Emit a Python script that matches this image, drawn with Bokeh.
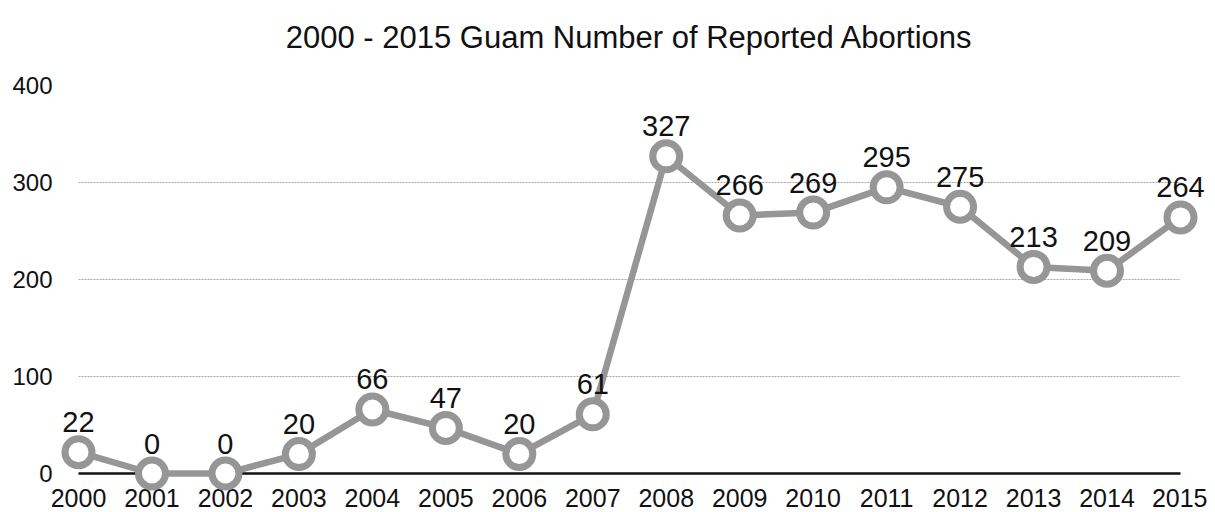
from bokeh.plotting import figure
from bokeh.models import Range1d, ColumnDataSource, FixedTicker
from bokeh.core.properties import value
from bokeh.embed import file_html
from bokeh.resources import INLINE

years = [2000, 2001, 2002, 2003, 2004, 2005, 2006, 2007,
         2008, 2009, 2010, 2011, 2012, 2013, 2014, 2015]
abortions = [22, 0, 0, 20, 66, 47, 20, 61,
             327, 266, 269, 295, 275, 213, 209, 264]
y_ticks = [0, 100, 200, 300, 400]
title_text = "2000 - 2015 Guam Number of Reported Abortions"

FONT = "Liberation Sans"
GRAY = "#969696"

src = ColumnDataSource(dict(x=years, y=abortions, lbl=[str(v) for v in abortions]))

p = figure(width=1207, height=510, output_backend="svg", toolbar_location=None,
           x_range=Range1d(min(years), max(years)), y_range=Range1d(0, max(y_ticks)),
           min_border_left=78, min_border_right=27, min_border_top=85, min_border_bottom=37)

p.outline_line_color = None
p.background_fill_color = "white"

# axes
p.xaxis.ticker = FixedTicker(ticks=years)
p.yaxis.ticker = FixedTicker(ticks=y_ticks)
for ax in (p.xaxis[0], p.yaxis[0]):
    ax.major_tick_line_color = None
    ax.minor_tick_line_color = None
    ax.major_label_text_font = FONT
    ax.major_label_text_color = "#111111"
p.xaxis.major_label_text_font_size = "25px"
p.yaxis.major_label_text_font_size = "24px"
p.xaxis.axis_line_color = "#111111"
p.xaxis.axis_line_width = 2.5
p.yaxis.axis_line_color = None
p.xaxis.major_label_standoff = 9
p.yaxis.major_label_standoff = 20

p.xgrid.grid_line_color = None
p.ygrid.grid_line_color = "#a8a8a8"
p.ygrid.grid_line_width = 1
p.ygrid.grid_line_dash = "2 1"

line = p.line("x", "y", source=src, line_color=GRAY, line_width=6.5)
line.level = "overlay"
pts = p.scatter("x", "y", source=src, size=27, marker="circle",
                fill_color="white", line_color=GRAY, line_width=7)
pts.level = "overlay"
txt = p.text("x", "y", text="lbl", source=src, text_font=value(FONT),
             text_font_size="29px", text_align="center", text_baseline="alphabetic",
             y_offset=-30, text_color="#111111")
txt.level = "overlay"

# chart title, centred over the plotting area
title_src = ColumnDataSource(dict(x=[(min(years) + max(years)) / 2], y=[max(y_ticks)],
                                  t=[title_text]))
ttl = p.text("x", "y", text="t", source=title_src, text_font=value(FONT),
             text_font_size="31px", text_align="center", text_baseline="middle",
             y_offset=-48, text_color="#111111")
ttl.level = "overlay"

open("out.html", "w").write(file_html(p, INLINE))
